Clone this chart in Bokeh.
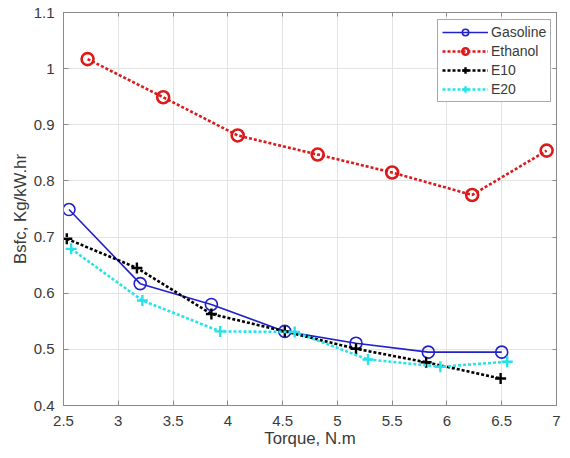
from bokeh.plotting import figure
from bokeh.models import (Range1d, FixedTicker, LinearAxis, Legend, LegendItem,
                          CustomJSTickFormatter)
from bokeh.embed import file_html
from bokeh.resources import INLINE

# ---- data ----
torque_gasoline = [2.55, 3.20, 3.85, 4.52, 5.17, 5.83, 6.50]
bsfc_gasoline = [0.749, 0.617, 0.580, 0.532, 0.511, 0.495, 0.495]

torque_ethanol = [2.72, 3.41, 4.09, 4.82, 5.50, 6.23, 6.91]
bsfc_ethanol = [1.017, 0.949, 0.881, 0.847, 0.815, 0.775, 0.854]

torque_e10 = [2.53, 3.17, 3.85, 4.52, 5.17, 5.81, 6.49]
bsfc_e10 = [0.697, 0.645, 0.563, 0.532, 0.501, 0.477, 0.448]

torque_e20 = [2.57, 3.22, 3.93, 4.61, 5.28, 5.94, 6.55]
bsfc_e20 = [0.679, 0.587, 0.532, 0.531, 0.482, 0.469, 0.478]

x_ticks = [2.5, 3, 3.5, 4, 4.5, 5, 5.5, 6, 6.5, 7]
y_ticks = [0.4, 0.5, 0.6, 0.7, 0.8, 0.9, 1.0, 1.1]

FONT = "Liberation Sans"
AXIS_COL = "#8a8a8a"
TEXT_COL = "#3a3a3a"

p = figure(width=562, height=450, output_backend="svg", toolbar_location=None,
           x_range=Range1d(2.5, 7), y_range=Range1d(0.4, 1.1),
           min_border_left=63, min_border_right=6, min_border_top=12, min_border_bottom=45)
p.outline_line_color = AXIS_COL
p.background_fill_color = "white"
p.border_fill_color = "white"

fmt = CustomJSTickFormatter(code="return (Math.round(tick*100)/100).toString();")
blank = CustomJSTickFormatter(code="return '';")

for ax, ticks in ((p.xaxis[0], x_ticks), (p.yaxis[0], y_ticks)):
    ax.ticker = FixedTicker(ticks=ticks)
    ax.formatter = fmt
    ax.axis_line_color = AXIS_COL
    ax.major_tick_line_color = AXIS_COL
    ax.major_tick_in = 5
    ax.major_tick_out = 0
    ax.minor_tick_line_color = None
    ax.major_label_text_font = FONT
    ax.major_label_text_font_size = "15px"
    ax.major_label_text_color = TEXT_COL
    ax.axis_label_text_font = FONT
    ax.axis_label_text_font_size = "16.8px"
    ax.axis_label_text_font_style = "normal"
    ax.axis_label_text_color = TEXT_COL

p.xaxis[0].axis_label = "Torque, N.m"
p.yaxis[0].axis_label = "Bsfc, Kg/kW.hr"
p.xaxis[0].major_label_standoff = 10
p.yaxis[0].major_label_standoff = 9
p.xaxis[0].axis_label_standoff = 0
p.yaxis[0].axis_label_standoff = 1

# mirrored ticks on top and right (MATLAB box)
for loc, ticks in (("above", x_ticks), ("right", y_ticks)):
    a = LinearAxis(ticker=FixedTicker(ticks=ticks), formatter=blank,
                   axis_line_color=AXIS_COL,
                   major_tick_line_color=AXIS_COL, major_tick_in=4, major_tick_out=0,
                   minor_tick_line_color=None, major_label_standoff=0)
    p.add_layout(a, loc)

p.grid.grid_line_color = "#e3e3e3"
p.xgrid.ticker = FixedTicker(ticks=x_ticks)
p.ygrid.ticker = FixedTicker(ticks=y_ticks)

items = []
# Gasoline
l1 = p.line(torque_gasoline, bsfc_gasoline, line_color="#2020cc", line_width=1.6)
s1 = p.scatter(torque_gasoline, bsfc_gasoline, marker="circle", size=12,
               line_color="#2020cc", line_width=1.6, fill_color=None)
items.append(LegendItem(label="Gasoline", renderers=[l1, s1]))
# Ethanol
l2 = p.line(torque_ethanol, bsfc_ethanol, line_color="#dd1a1a", line_width=2.6, line_dash="3 2")
s2 = p.scatter(torque_ethanol, bsfc_ethanol, marker="circle", size=12,
               line_color="#dd1a1a", line_width=2.6, fill_color=None)
items.append(LegendItem(label="Ethanol", renderers=[l2, s2]))
# E10
l3 = p.line(torque_e10, bsfc_e10, line_color="black", line_width=2.6, line_dash="3 2")
s3 = p.scatter(torque_e10, bsfc_e10, marker="cross", size=11,
               line_color="black", line_width=2.4)
items.append(LegendItem(label="E10", renderers=[l3, s3]))
# E20
l4 = p.line(torque_e20, bsfc_e20, line_color="#25e3e8", line_width=2.6, line_dash="3 2")
s4 = p.scatter(torque_e20, bsfc_e20, marker="cross", size=11,
               line_color="#25e3e8", line_width=2.4)
items.append(LegendItem(label="E20", renderers=[l4, s4]))

legend = Legend(items=items, location=(374, 303),
                label_text_font=FONT, label_text_font_size="14px", label_text_color=TEXT_COL,
                glyph_width=46, glyph_height=16, label_height=16, label_standoff=3,
                spacing=3, padding=4,
                border_line_color="#555555", border_line_width=1,
                background_fill_color="white", background_fill_alpha=1.0)
p.add_layout(legend)

open("out.html", "w").write(file_html(p, INLINE))
